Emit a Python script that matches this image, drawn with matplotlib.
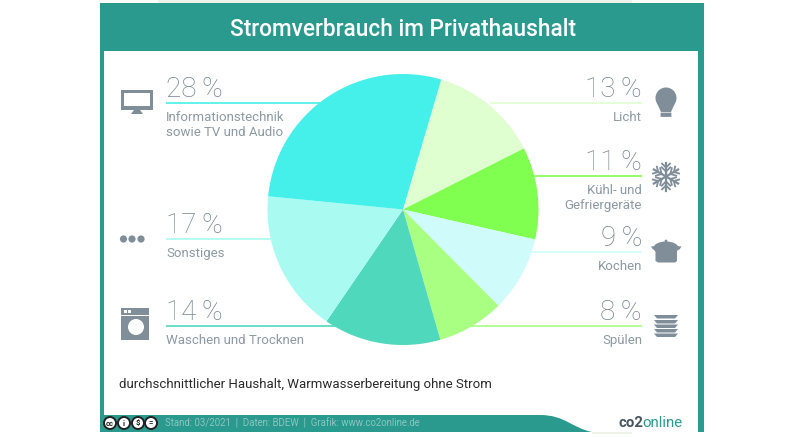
import matplotlib
matplotlib.use("Agg")
import matplotlib.pyplot as plt
from matplotlib.patches import Circle, Ellipse, Polygon, Rectangle, PathPatch, FancyBboxPatch
from matplotlib.path import Path
import numpy as np

W, H = 803, 437

# clockwise from the wedge right of the 28 % slice
categories = ["Licht", "Kühl- und\nGefriergeräte", "Kochen", "Spülen",
              "Waschen und Trocknen", "Sonstiges", "Informationstechnik\nsowie TV und Audio"]
shares = [13, 11, 9, 8, 14, 17, 28]
colors = ["#DFFFD0", "#80FF50", "#CFFCFA", "#A8FF82", "#50D8BC", "#A9FBF2", "#45F0EA"]

title = "Stromverbrauch im Privathaushalt"
note = "durchschnittlicher Haushalt, Warmwasserbereitung ohne Strom"
footer = "Stand: 03/2021  |  Daten: BDEW  |  Grafik: www.co2online.de"

TEAL = "#2A9A8F"
GREY = "#7F8E99"
TEXT = "#8C9AA3"

plt.rcParams["font.family"] = ["Roboto", "DejaVu Sans"]

fig = plt.figure(figsize=(W / 100, H / 100), dpi=100)
ax = fig.add_axes([0, 0, 1, 1])
ax.set_xlim(0, W)
ax.set_ylim(H, 0)
ax.axis("off")

# page frame
ax.add_patch(Rectangle((158, 0), 474, 3, color="#EEF3EA", lw=0))
ax.add_patch(Rectangle((100, 3), 604, 429, color=TEAL, lw=0))
ax.add_patch(Rectangle((104.5, 51), 593.5, 364, color="white", lw=0))
# footer wave leaves the right part white
verts = [(540, 415), (565, 415), (572, 428), (592, 432), (698, 432), (698, 415), (540, 415)]
codes = [Path.MOVETO, Path.CURVE4, Path.CURVE4, Path.CURVE4, Path.LINETO, Path.LINETO, Path.CLOSEPOLY]
ax.add_patch(PathPatch(Path(verts, codes), facecolor="white", lw=0))
ax.add_patch(Rectangle((592, 432), 40, 1.5, color="#EEF3EA", lw=0))

ax.text(403, 35.5, title, color="white", fontsize=16.3, fontweight="medium", ha="center", va="baseline")

# label rows: x of the slice edge, y of the rule, side
rows = {
    "Informationstechnik\nsowie TV und Audio": (320, 103, "l"),
    "Sonstiges": (272, 239, "l"),
    "Waschen und Trocknen": (335, 326, "l"),
    "Licht": (490, 103, "r"),
    "Kühl- und\nGefriergeräte": (533, 176, "r"),
    "Kochen": (530, 252, "r"),
    "Spülen": (470, 326, "r"),
}
for cat, share, col in zip(categories, shares, colors):
    edge, y, side = rows[cat]
    if side == "l":
        x0, x1, ha = 166, edge, "left"
        tx = 166
    else:
        x0, x1, ha = edge, 642, "right"
        tx = 642
    ax.plot([x0, x1], [y, y], color=col, lw=1.2, solid_capstyle="butt")
    ax.text(tx, y - 6, f"{share}\u2009%", color="#75848F", fontsize=20, fontweight="light", ha=ha, va="baseline")
    for i, line in enumerate(cat.split("\n")):
        ax.text(tx, y + 18 + i * 14.5, line, color=TEXT, fontsize=9.5, ha=ha, va="baseline")

ax.text(119, 388, note, color="#2B2B2B", fontsize=9.55, va="baseline")

# footer
for cx, s in zip([110, 124, 138, 151], ["cc", "i", "$", "="]):
    ax.add_patch(Circle((cx, 423), 6, facecolor="white", edgecolor="#222222", lw=1.4))
    ax.text(cx, 423, s, color="#222222", fontsize=5.5, fontweight="bold", ha="center", va="center")
ax.text(165, 427, footer, color="#8CC5BF", fontsize=6.9, va="baseline")
ax.text(619, 427, "co2", color="#4A5560", fontsize=10.8, fontweight="bold", va="baseline")
ax.text(642, 427, "online", color=TEAL, fontsize=10.8, va="baseline")

# monitor
ax.add_patch(Rectangle((121, 90), 32, 20, color=GREY, lw=0))
ax.add_patch(Rectangle((124, 93), 26, 13, color="white", lw=0))
ax.add_patch(Polygon([(134, 110), (140, 110), (143, 114), (131, 114)], color=GREY, lw=0))

# dots
for cx in [123.5, 132, 141]:
    ax.add_patch(Circle((cx, 239), 3.6, color=GREY, lw=0))

# washing machine
ax.add_patch(Rectangle((121, 308), 28, 32, color=GREY, lw=0))
ax.add_patch(Rectangle((121, 314.5), 28, 1, color="white", lw=0))
ax.add_patch(Circle((136, 327), 8, color="white", lw=0))
for cx in [125, 129.5]:
    ax.add_patch(Rectangle((cx - 1.2, 309.5), 3, 3, color="white", lw=0))

# bulb
ax.add_patch(Circle((666, 98), 10.5, color=GREY, lw=0))
ax.add_patch(Polygon([(657, 103), (675, 103), (671, 112), (661, 112)], color=GREY, lw=0))
ax.add_patch(FancyBboxPatch((661, 113), 10, 3.5, boxstyle="round,pad=0.4", color=GREY, lw=0))

# snowflake
c = np.array([666, 176.5])
for a in np.deg2rad(np.arange(30, 360, 60)):
    d = np.array([np.cos(a), np.sin(a)])
    ax.plot(*zip(c, c + 14 * d), color=GREY, lw=1.6)
    for off in (0.8, -0.8):
        rot = np.array([[np.cos(off), -np.sin(off)], [np.sin(off), np.cos(off)]]) @ d
        for dist, size in ((5, 6), (9, 5.5)):
            p = c + dist * d
            ax.plot(*zip(p, p + size * rot), color=GREY, lw=1.3)

# pot
ax.add_patch(Polygon([(655.5, 249), (677, 249), (677, 261), (675, 262.5), (658, 262.5), (655.5, 261)],
                     color=GREY, lw=0))
ax.add_patch(Ellipse((666, 248), 25, 13, color=GREY, lw=0))
ax.add_patch(Polygon([(651, 246.5), (656, 246), (656, 250), (653, 249.5)], color=GREY, lw=0))
ax.add_patch(Polygon([(681.5, 246.5), (676, 246), (676, 250), (679.5, 249.5)], color=GREY, lw=0))
ax.add_patch(Circle((666, 241), 1.4, color=GREY, lw=0))

# plates
for y in [315, 320, 324.5, 329, 333.5]:
    ax.add_patch(Polygon([(654, y), (678, y), (675, y + 3.5), (657, y + 3.5)], color=GREY, lw=0))

# pie, placed by pixel box
cx, cy, r = 403, 209.5, 135.5
pie_ax = fig.add_axes([(cx - r) / W, 1 - (cy + r) / H, 2 * r / W, 2 * r / H])
pie_ax.pie(shares, colors=colors, startangle=73.6, counterclock=False, radius=1,
           wedgeprops={"linewidth": 0})
pie_ax.set_xlim(-1, 1)
pie_ax.set_ylim(-1, 1)

fig.savefig("out.png", dpi=100)
